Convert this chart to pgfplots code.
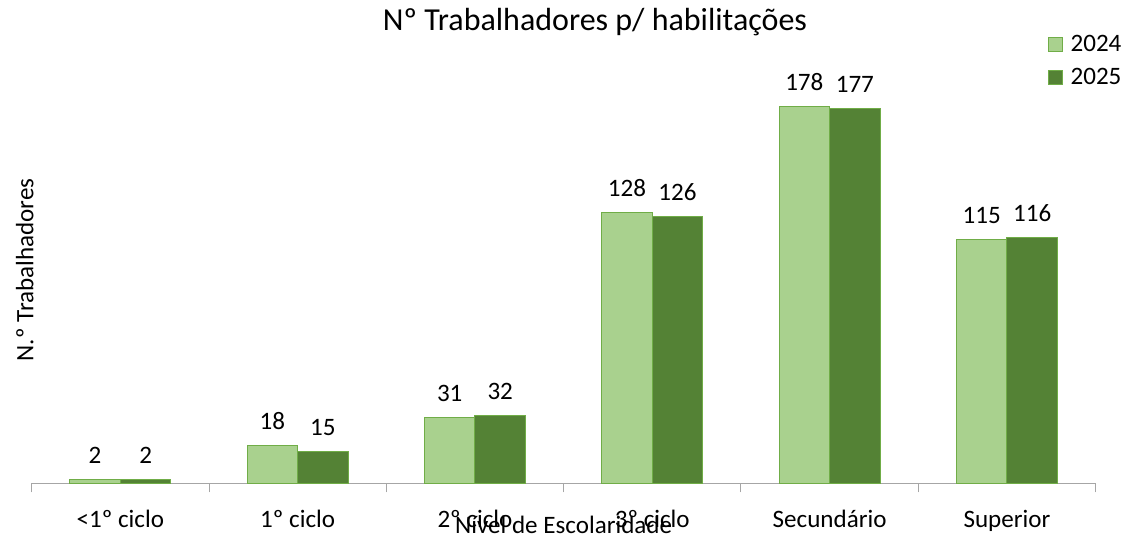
\documentclass[border=0pt]{standalone}
\usepackage{fontspec}
\setmainfont{Carlito}
\usepackage{pgfplots}
\pgfplotsset{compat=1.18}
\definecolor{light}{HTML}{A9D18E}
\definecolor{dark}{HTML}{548235}
\definecolor{edge}{HTML}{70AD47}
\definecolor{axisgray}{HTML}{A6A6A6}
\newcommand\lblfont{\fontsize{18.8}{22}\selectfont}
\begin{document}
\begin{tikzpicture}
\useasboundingbox (-23.775pt,-41.025pt) rectangle ++(840.75pt,403.5pt);
\begin{axis}[
  at={(0,0)}, anchor=south west, scale only axis,
  width=797.9pt, height=317.4pt,
  ybar=0pt, bar width=37.9pt,
  xmin=-0.5, xmax=5.5, ymin=0, ymax=200,
  axis x line*=bottom, axis y line*=left,
  y axis line style={draw=none}, ytick=\empty,
  x axis line style={axisgray, line width=0.75pt},
  xtick={0,...,5},
  xticklabels={<1º ciclo, 1º ciclo, 2º ciclo, 3º ciclo, Secundário, Superior},
  major tick length=0pt,
  minor xtick={-0.5,0.5,...,5.5},
  minor tick length=6.75pt,
  tick align=outside,
  minor tick style={axisgray, line width=0.75pt},
  xticklabel style={font=\lblfont, anchor=base, yshift=-33pt},
  clip=false,
  /pgf/number format/assume math mode=true,
  title={Nº Trabalhadores p/ habilitações},
  title style={at={(rel axis cs:0.5295,1.0515)}, anchor=base, font=\fontsize{24}{28}\selectfont},
  xlabel={Nível de Escolaridade},
  xlabel style={at={(rel axis cs:0.5,0)}, anchor=base, yshift=-37.3pt, font=\lblfont},
  ylabel={N.º Trabalhadores},
  ylabel style={at={(rel axis cs:0.0015,0.504)}, anchor=base, font=\lblfont},
  nodes near coords,
  every node near coord/.append style={font=\lblfont, anchor=base, inner sep=0pt, yshift=12pt, black},
  legend style={at={(rel axis cs:0.9553,1.066)}, anchor=north west, draw=none, fill=none, font=\lblfont, inner sep=0pt, row sep=7.5pt,
    /tikz/every odd column/.style={column sep=3.5pt}},
  legend cell align=left,
  legend image code/.code={\draw[#1] (0pt,-5.25pt) rectangle (10.5pt,5.25pt);},
]
\addplot[fill=light, draw=edge, line width=0.75pt] coordinates {(0,2) (1,18) (2,31) (3,128) (4,178) (5,115)};
\addplot[fill=dark, draw=edge, line width=0.75pt] coordinates {(0,2) (1,15) (2,32) (3,126) (4,177) (5,116)};
\legend{2024,2025}
\end{axis}
\end{tikzpicture}
\end{document}
